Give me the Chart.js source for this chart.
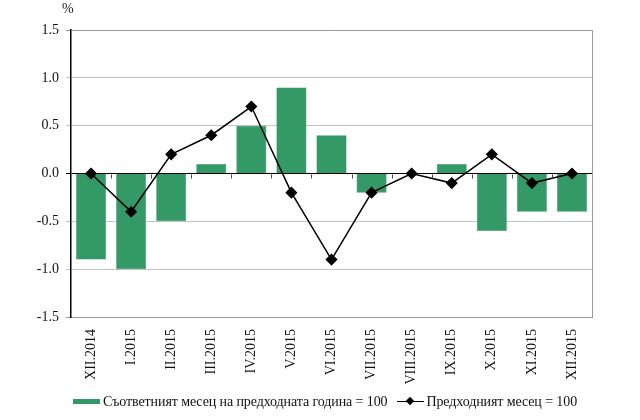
<!DOCTYPE html>
<html>
<head>
<meta charset="utf-8">
<script src="https://cdn.jsdelivr.net/npm/chart.js@4.4.1/dist/chart.umd.min.js"></script>
<style>
  html, body { margin: 0; padding: 0; background: #fff; }
  #wrap { position: relative; width: 640px; height: 420px; }
  #pct { position: absolute; left: 62px; top: 1px; font: 14px "Liberation Serif", serif; color: #222; }
  #legend { position: absolute; left: 5px; width: 640px; top: 393px; text-align: center;
            font: 14px "Liberation Serif", serif; color: #111; white-space: nowrap; letter-spacing: -0.1px; }
  .item { display: inline-block; vertical-align: middle; }
  .box { display: inline-block; width: 27px; height: 5px; background: #339966; vertical-align: middle; margin-right: 3px; }
  .ln { display: inline-block; position: relative; width: 27px; height: 10px; vertical-align: middle; margin: 0 2px 0 10px; }
  .ln:before { content: ""; position: absolute; left: 0; right: 0; top: 4px; height: 1.5px; background: #000; }
  .ln:after { content: ""; position: absolute; left: 10px; top: 1px; width: 6px; height: 6px; background: #000; transform: rotate(45deg); }
</style>
</head>
<body>
<div id="wrap">
  <canvas id="c" width="640" height="420"></canvas>
  <div id="pct">%</div>
  <div id="legend">
    <span class="box"></span><span class="item">Съответният месец на предходната година = 100</span><span class="ln"></span><span class="item">Предходният месец = 100</span>
  </div>
</div>
<script>
// Данни
const labels = ["XII.2014", "I.2015", "II.2015", "III.2015", "IV.2015", "V.2015", "VI.2015",
                "VII.2015", "VIII.2015", "IX.2015", "X.2015", "XI.2015", "XII.2015"];
const prevYear = [-0.9, -1.0, -0.5, 0.1, 0.5, 0.9, 0.4, -0.2, 0.0, 0.1, -0.6, -0.4, -0.4];
const prevMonth = [0.0, -0.4, 0.2, 0.4, 0.7, -0.2, -0.9, -0.2, 0.0, -0.1, 0.2, -0.1, 0.0];
const yTicks = [-1.5, -1.0, -0.5, 0.0, 0.5, 1.0, 1.5];

// рамка + малки чертички по нулевата линия
const framePlugin = {
    id: "frame",
    afterDraw(chart) {
        const { ctx, chartArea: a, scales } = chart;
        const x = scales.x, y = scales.y;
        ctx.save();
        ctx.strokeStyle = "#999";
        ctx.lineWidth = 1;
        ctx.beginPath();
        ctx.moveTo(a.right + 0.5, a.top);
        ctx.lineTo(a.right + 0.5, a.bottom);
        ctx.stroke();

        const y0 = Math.round(y.getPixelForValue(0)) + 0.5;
        ctx.strokeStyle = "#444";
        ctx.beginPath();
        for (let i = 1; i < labels.length; i++) {
            const px = Math.round((x.getPixelForValue(i - 1) + x.getPixelForValue(i)) / 2) + 0.5;
            ctx.moveTo(px, y0);
            ctx.lineTo(px, y0 + 4);
        }
        ctx.stroke();
        ctx.restore();
    }
};

const serif = "'Liberation Serif', 'Times New Roman', serif";

new Chart(document.getElementById("c"), {
    data: {
        labels: labels,
        datasets: [
            {
                type: "line",
                label: "Предходният месец = 100",
                data: prevMonth,
                borderColor: "#000",
                backgroundColor: "#000",
                borderWidth: 1.5,
                pointStyle: "rectRot",
                pointRadius: 5,
                pointHoverRadius: 5,
                tension: 0,
                order: 0
            },
            {
                type: "bar",
                label: "Съответният месец на предходната година = 100",
                data: prevYear,
                backgroundColor: "#339966",
                borderColor: "#2d8a5b",
                borderWidth: 0.5,
                barPercentage: 0.75,
                categoryPercentage: 1.0,
                order: 1
            }
        ]
    },
    options: {
        responsive: false,
        animation: false,
        layout: { padding: { top: 30, right: 48, left: 0, bottom: 0 } },
        plugins: {
            legend: { display: false },
            tooltip: { enabled: false }
        },
        scales: {
            x: {
                grid: { display: false },
                border: { color: "#999", width: 1 },
                ticks: {
                    color: "#111",
                    font: { family: serif, size: 14 },
                    minRotation: 90,
                    maxRotation: 90,
                    autoSkip: false,
                    padding: 4
                },
                afterFit(s) { s.height = 103; }
            },
            y: {
                min: -1.5,
                max: 1.5,
                afterBuildTicks(s) { s.ticks = yTicks.map(v => ({ value: v })); },
                grid: {
                    color(c) {
                        const v = c.tick.value;
                        if (v === 0) return "#000";
                        if (v === 1.5 || v === -1.5) return "#999";
                        return "#c4c4c4";
                    },
                    drawTicks: true,
                    tickLength: 5
                },
                border: { color: "#000", width: 1.5 },
                ticks: {
                    color: "#111",
                    font: { family: serif, size: 14 },
                    padding: 7,
                    callback: v => v.toFixed(1)
                },
                afterFit(s) { s.width = 71; }
            }
        }
    },
    plugins: [framePlugin]
});
</script>
</body>
</html>
